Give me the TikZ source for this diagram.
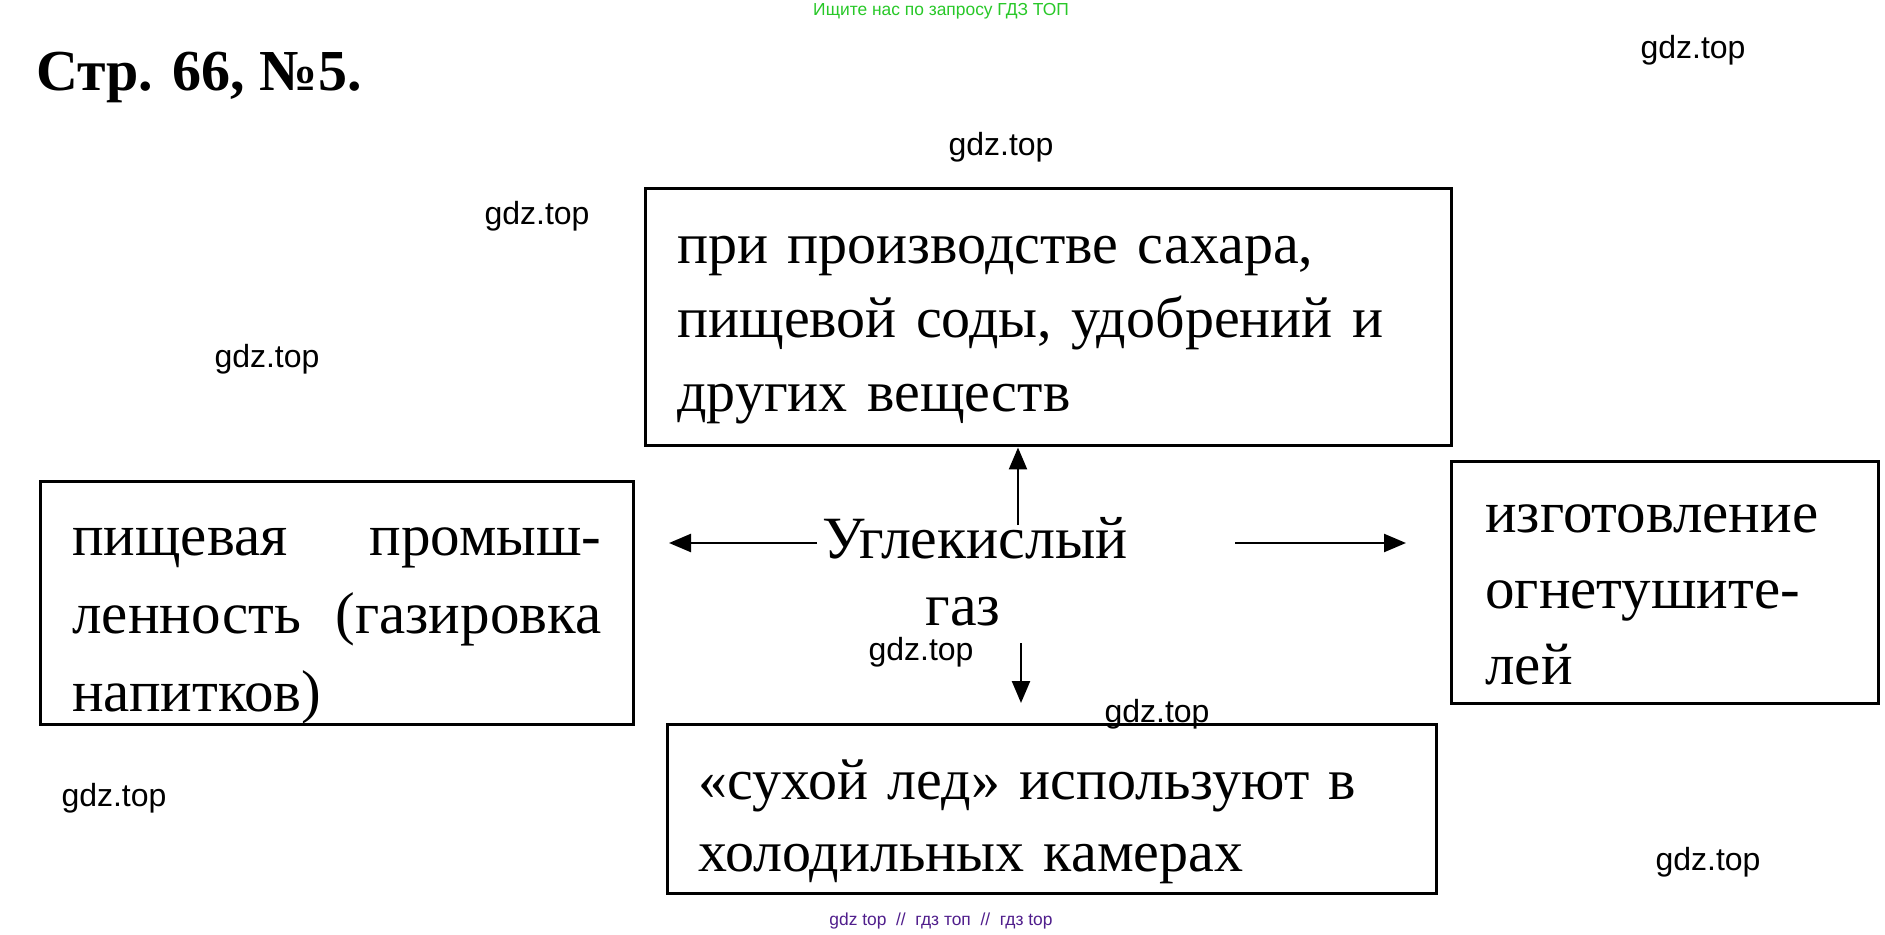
\documentclass[tikz,border=0pt]{standalone}
\usepackage{fontspec}
\setmainfont{Liberation Serif}
\newfontfamily\wmfont{Liberation Sans}
\usetikzlibrary{arrows.meta}
\definecolor{wmgreen}{RGB}{40,200,40}
\definecolor{wmpurple}{RGB}{80,30,140}

\begin{document}
\begin{tikzpicture}[
    x=0.5pt, y=-0.5pt,
    box/.style={draw, line width=1.5pt, inner sep=0pt},
    txt/.style={font=\fontsize{29}{37}\selectfont, align=left, inner sep=0pt, anchor=base west},
    arr/.style={-{Triangle[length=11pt,width=9pt]}, line width=1.2pt},
    wm/.style={font=\wmfont\fontsize{16}{19}\selectfont}
]
\fill[white] (0,0) rectangle (1885,935);
\useasboundingbox (0,0) rectangle (1885,935);

% Header
\node[font=\wmfont\fontsize{8.7}{10}\selectfont, text=wmgreen] (search) at (941,11) {Ищите нас по запросу ГДЗ ТОП};
\node[font=\bfseries\fontsize{29}{36}\selectfont, anchor=base west, inner sep=0pt] (title) at (36,91) {Стр. 66, №5.};

% Boxes
\node[box, minimum width=403pt, minimum height=128.5pt] (top) at (1048,317.5) {};
\node[box, minimum width=296.5pt, minimum height=121pt] (left) at (336.5,603) {};
\node[box, minimum width=213.5pt, minimum height=120.5pt] (right) at (1664.5,582.5) {};
\node[box, minimum width=384.5pt, minimum height=84.5pt] (bottom) at (1051.5,808.5) {};

% Texts
\node[txt, text width=380pt] (topText) at (677,264) {при производстве сахара,\\пищевой соды, удобрений и\\других веществ};
\node[txt, text width=264.5pt, font=\fontsize{29.5}{39}\selectfont] (leftText) at (72,555) {пищевая\hfill промыш-\\ленность\hfill (газировка\\напитков)};
\node[txt, text width=190pt, font=\fontsize{29.5}{38}\selectfont] (rightText) at (1485,532) {изготовление\\огнетушите-\\лей};
\node[txt, text width=370pt, font=\fontsize{29}{36}\selectfont] (bottomText) at (698,799) {«сухой лед» используют в\\холодильных камерах};
\node[txt, text width=200pt, align=center, anchor=base, font=\fontsize{30}{33}\selectfont] (co2) at (975,559) {Углекислый\\\hspace*{-12pt}газ};

% Arrows
\coordinate (aUp) at (1018,525);
\coordinate (aDown) at (1021,643);
\coordinate (aDownE) at (1021,703);
\coordinate (aLeft) at (817,543);
\coordinate (aLeftE) at (669,543);
\coordinate (aRight) at (1235,543);
\coordinate (aRightE) at (1406,543);
\draw[arr] (aUp) -- (aUp |- top.south);
\draw[arr] (aDown) -- (aDownE);
\draw[arr] (aLeft) -- (aLeftE);
\draw[arr] (aRight) -- (aRightE);

% Watermarks
\foreach \x/\y [count=\i] in {1693/50, 1001/147, 537/216, 267/359, 921/652, 1157/714, 114/798, 1708/862}
  \node[wm] (gdz\i) at (\x,\y) {gdz.top};
\node[font=\wmfont\fontsize{8.7}{10}\selectfont, text=wmpurple] (footer) at (941,921) {gdz top ~//~ гдз топ ~//~ гдз top};

\end{tikzpicture}
\end{document}
